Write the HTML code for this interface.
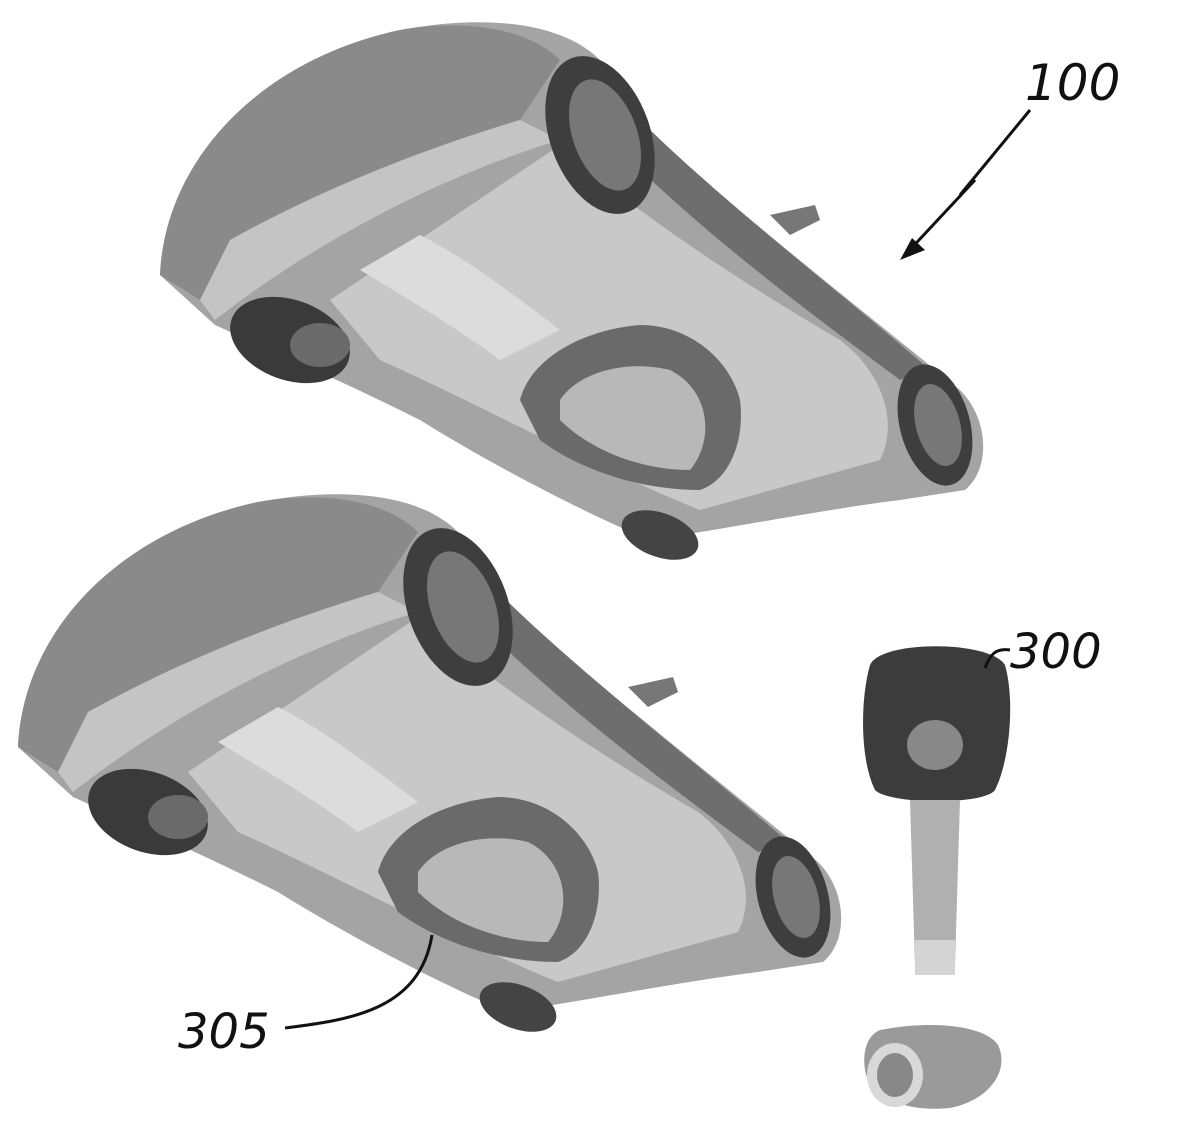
<!DOCTYPE html>
<html><head><meta charset="utf-8"><style>
html,body{margin:0;padding:0;background:#fff;}
svg{display:block}
text{font-family:"DejaVu Sans","Liberation Sans",sans-serif;font-style:italic;fill:#111}
</style></head><body>
<svg width="1200" height="1137" viewBox="0 0 1200 1137" xmlns="http://www.w3.org/2000/svg">
<defs>
<g id="car">
  <!-- main body -->
  <path d="M160,275 C165,160 260,60 400,30 C480,15 560,20 600,60 L640,120 C720,200 850,300 960,390 C990,420 990,470 965,490 L900,500 C820,510 720,530 650,540 C600,520 500,470 420,420 C340,380 270,350 215,325 Z" fill="#a4a4a4"/>
  <!-- front hood darker -->
  <path d="M160,275 C165,160 260,60 400,30 C470,18 530,30 560,60 L520,120 C420,150 320,190 230,240 L200,300 Z" fill="#8a8a8a"/>
  <!-- front bumper lighter strip -->
  <path d="M200,300 L230,240 C320,190 420,150 520,120 L560,140 C460,170 330,230 215,320 Z" fill="#c4c4c4"/>
  <!-- underside light panel -->
  <path d="M330,300 L560,145 C620,200 720,270 840,340 C880,370 900,420 880,460 L700,510 C600,470 470,400 380,360 Z" fill="#c8c8c8"/>
  <!-- right side dark strip -->
  <path d="M600,60 L640,120 C720,200 850,300 930,370 L900,380 C820,320 710,240 620,150 Z" fill="#6e6e6e"/>
  <!-- battery slot -->
  <path d="M360,270 L420,235 C470,260 520,300 560,330 L500,360 C460,330 410,300 360,270 Z" fill="#dcdcdc"/>
  <!-- cover / hatch -->
  <path d="M520,400 C530,360 580,330 640,325 C690,325 730,360 740,400 C745,440 730,480 700,490 C640,490 580,470 540,440 Z" fill="#6a6a6a"/>
  <path d="M560,400 C580,370 630,360 670,370 C710,390 715,440 690,470 C640,470 590,450 560,420 Z" fill="#b8b8b8"/>
  <!-- rear wheel top -->
  <ellipse cx="600" cy="135" rx="50" ry="82" transform="rotate(-20 600 135)" fill="#3e3e3e"/>
  <ellipse cx="605" cy="135" rx="32" ry="58" transform="rotate(-20 605 135)" fill="#777"/>
  <!-- rear wheel right -->
  <ellipse cx="935" cy="425" rx="35" ry="62" transform="rotate(-15 935 425)" fill="#3e3e3e"/>
  <ellipse cx="938" cy="425" rx="22" ry="42" transform="rotate(-15 938 425)" fill="#777"/>
  <!-- front wheel left -->
  <ellipse cx="290" cy="340" rx="62" ry="40" transform="rotate(20 290 340)" fill="#3a3a3a"/>
  <ellipse cx="320" cy="345" rx="30" ry="22" fill="#6a6a6a"/>
  <!-- small wheel bottom -->
  <ellipse cx="660" cy="535" rx="40" ry="22" transform="rotate(20 660 535)" fill="#444"/>
  <!-- fin -->
  <path d="M770,215 L815,205 L820,220 L790,235 Z" fill="#777"/>
</g>
</defs>
<use href="#car"/>
<use href="#car" transform="translate(-142,472)"/>
<!-- key 300 -->
<path d="M870,665 C880,640 990,640 1005,665 C1015,700 1010,760 995,790 C985,805 890,805 875,790 C860,760 860,700 870,665 Z" fill="#3c3c3c"/>
<ellipse cx="935" cy="745" rx="28" ry="25" fill="#888"/>
<path d="M910,800 L960,800 L955,965 L915,965 Z" fill="#b0b0b0"/>
<path d="M915,940 L955,940 L955,975 L915,975 Z" fill="#d4d4d4"/>
<!-- cap -->
<path d="M880,1030 C930,1020 985,1025 998,1045 C1010,1070 990,1100 950,1108 C910,1112 870,1100 865,1070 C862,1050 868,1035 880,1030 Z" fill="#9a9a9a"/>
<ellipse cx="895" cy="1075" rx="28" ry="32" fill="#d8d8d8"/>
<ellipse cx="895" cy="1075" rx="18" ry="22" fill="#888"/>
<!-- labels -->
<text x="1025" y="100" font-size="50">100</text>
<text x="1010" y="668" font-size="48">300</text>
<text x="178" y="1048" font-size="48">305</text>
<!-- leaders -->
<polyline points="1030,110 960,195 975,180 905,255" fill="none" stroke="#111" stroke-width="3"/>
<polygon points="900,260 912,238 925,250" fill="#111"/>
<path d="M1010,650 C995,648 990,655 985,668" fill="none" stroke="#111" stroke-width="3"/>
<path d="M285,1028 C350,1020 420,1010 432,935" fill="none" stroke="#111" stroke-width="3"/>
</svg>
</body></html>
